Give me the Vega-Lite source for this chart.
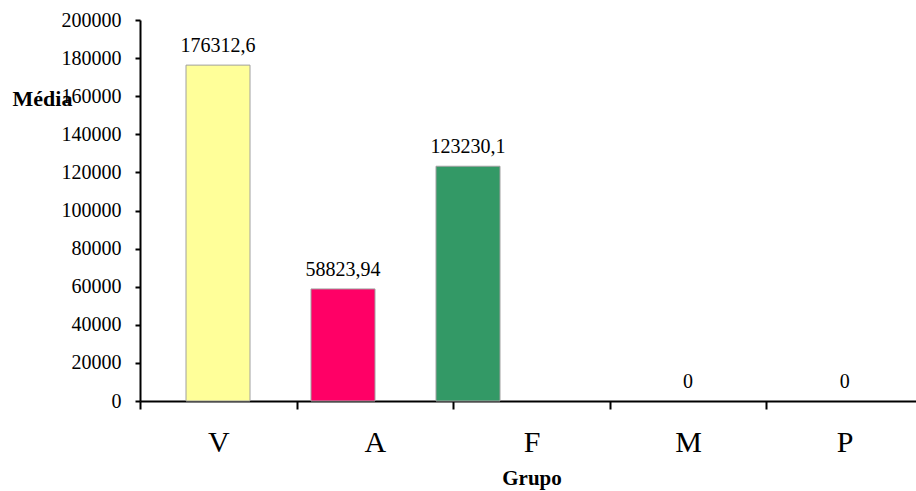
{
  "$schema": "https://vega.github.io/schema/vega-lite/v6.json",
  "autosize": "none",
  "width": 776,
  "height": 381,
  "padding": {"left": 140, "top": 20, "right": 0, "bottom": 90},
  "background": "white",
  "config": {"view": {"stroke": null}, "font": "Liberation Serif"},
  "data": {"values": [
    {"grupo": "V", "media": 176312.6, "label": "176312,6", "cor": "#FFFF99"},
    {"grupo": "A", "media": 58823.94, "label": "58823,94", "cor": "#FF0066"},
    {"grupo": "F", "media": 123230.1, "label": "123230,1", "cor": "#339966"},
    {"grupo": "M", "media": 0, "label": "0", "cor": "#FFFFFF"},
    {"grupo": "P", "media": 0, "label": "0", "cor": "#FFFFFF"}
  ]},
  "encoding": {
    "y": {
      "field": "media", "type": "quantitative",
      "scale": {"domain": [0, 200000], "nice": false},
      "axis": {
        "title": "Média", "titleFont": "Liberation Serif", "titleFontSize": 22, "titleFontWeight": "bold",
        "titleColor": "black", "titleAngle": 0, "titleAlign": "left", "titleBaseline": "alphabetic",
        "titleX": -128, "titleY": 85,
        "values": [0, 20000, 40000, 60000, 80000, 100000, 120000, 140000, 160000, 180000, 200000],
        "format": "d", "grid": false,
        "labelFont": "Liberation Serif", "labelFontSize": 20, "labelColor": "black", "labelPadding": 14,
        "tickSize": 5, "tickColor": "black", "tickWidth": 2, "domainColor": "black", "domainWidth": 2
      }
    }
  },
  "layer": [
    {
      "transform": [{"filter": {"field": "grupo", "oneOf": ["M", "P"]}}],
      "mark": {"type": "text", "dy": -13, "baseline": "alphabetic", "fontSize": 20, "font": "Liberation Serif", "color": "black"},
      "encoding": {
        "x": {
          "field": "grupo", "type": "nominal",
          "scale": {"domain": ["V", "A", "F", "M", "P"], "range": [0, 783], "paddingInner": 0, "paddingOuter": 0},
          "axis": {
            "title": "Grupo", "titleFont": "Liberation Serif", "titleFontSize": 21, "titleFontWeight": "bold",
            "titleColor": "black", "titlePadding": 10,
            "labelFont": "Liberation Serif", "labelFontSize": 30, "labelColor": "black", "labelAngle": 0,
            "labelPadding": 18, "tickBand": "extent", "tickSize": 8, "tickColor": "black", "tickWidth": 2,
            "domainColor": "black", "domainWidth": 2
          }
        },
        "text": {"field": "label"}
      }
    },
    {
      "transform": [{"filter": {"field": "grupo", "oneOf": ["V", "A", "F"]}}],
      "encoding": {
        "x": {
          "field": "grupo", "type": "nominal", "sort": null,
          "scale": {"range": [46, 360], "paddingInner": 0.488, "paddingOuter": 0},
          "axis": null
        }
      },
      "layer": [
        {
          "mark": {"type": "bar", "stroke": "#A0A0A0", "strokeWidth": 1},
          "encoding": {"color": {"field": "cor", "type": "nominal", "scale": null}}
        },
        {
          "mark": {"type": "text", "dy": -13, "baseline": "alphabetic", "fontSize": 20, "font": "Liberation Serif", "color": "black"},
          "encoding": {"text": {"field": "label"}}
        }
      ]
    }
  ],
  "resolve": {"scale": {"x": "independent"}}
}
